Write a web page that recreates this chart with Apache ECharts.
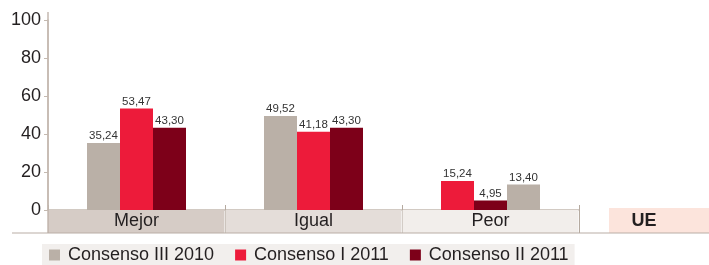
<!DOCTYPE html>
<html>
<head>
<meta charset="utf-8">
<script src="https://cdn.jsdelivr.net/npm/echarts@6/dist/echarts.min.js"></script>
<style>
  html, body { margin: 0; padding: 0; background: #fff; }
  #chart { width: 709px; height: 265px; }
</style>
</head>
<body>
<div id="chart"></div>
<script>
// datos
var categorias = ['Mejor', 'Igual', 'Peor'];
var consensoIII2010 = [35.24, 49.52, 13.40];
var consensoI2011 = [53.47, 41.18, 15.24];
var consensoII2011 = [43.30, 43.30, 4.95];
var yTicks = [0, 20, 40, 60, 80, 100];

var colores = {
  'Consenso III 2010': '#bab0a7',
  'Consenso I 2011': '#ed1b3a',
  'Consenso II 2011': '#7d0019'
};
var fondos = ['#d6ccc6', '#e4ddd9', '#f2eeeb'];

// Mejor e Igual en el eje 0, Peor en el eje 1 (otro orden de barras)
function parte(arr, desdePeor) {
  return arr.map(function (v, i) {
    return (i === 2) === desdePeor ? v : '-';
  });
}

var etiqueta = {
  show: true,
  position: 'top',
  distance: 1,
  fontSize: 11.5,
  fontFamily: 'Liberation Sans',
  color: '#333',
  formatter: function (p) { return p.value.toFixed(2).replace('.', ','); }
};

function serie(nombre, arr, eje) {
  return {
    name: nombre,
    type: 'bar',
    xAxisIndex: eje,
    barWidth: 33,
    barGap: 0,
    itemStyle: { color: colores[nombre] },
    label: etiqueta,
    data: parte(arr, eje === 1)
  };
}

var chart = echarts.init(document.getElementById('chart'));
chart.setOption({
  animation: false,
  textStyle: { fontFamily: 'Liberation Sans' },
  grid: { left: 48, right: 130, top: 20, bottom: 55 },
  legend: {
    data: ['Consenso III 2010', 'Consenso I 2011', 'Consenso II 2011'],
    left: 42,
    top: 244,
    backgroundColor: '#f2efed',
    padding: [2, 6, 2, 7],
    icon: 'rect',
    itemWidth: 11,
    itemHeight: 11,
    itemGap: 21,
    textStyle: { fontSize: 18, color: '#231f20', padding: [0, 0, 0, 3] }
  },
  xAxis: [{
    type: 'category',
    data: categorias,
    axisLine: { lineStyle: { color: '#c4b9b0', width: 1.5 } },
    axisTick: { show: true, length: 23, lineStyle: { color: '#b5aaa0' } },
    axisLabel: {
      margin: 0,
      interval: 0,
      formatter: function (v, i) { return '{c' + i + '|' + v + '}'; },
      rich: {
        c0: { width: 176, height: 23, lineHeight: 23, align: 'center', fontSize: 18, color: '#231f20', backgroundColor: fondos[0] },
        c1: { width: 176, height: 23, lineHeight: 23, align: 'center', fontSize: 18, color: '#231f20', backgroundColor: fondos[1] },
        c2: { width: 176, height: 23, lineHeight: 23, align: 'center', fontSize: 18, color: '#231f20', backgroundColor: fondos[2] }
      }
    }
  }, {
    type: 'category',
    data: categorias,
    position: 'bottom',
    axisLine: { show: false },
    axisTick: { show: true, inside: true, length: 5, lineStyle: { color: '#b5aaa0' } },
    axisLabel: { show: false }
  }],
  yAxis: {
    type: 'value',
    min: yTicks[0],
    max: yTicks[yTicks.length - 1],
    interval: 20,
    splitLine: { show: false },
    axisLine: { show: true, lineStyle: { color: '#c4b9b0', width: 1.5 } },
    axisTick: { show: true, length: 4, lineStyle: { color: '#c4b9b0' } },
    axisLabel: { fontSize: 18, color: '#231f20', margin: 7 }
  },
  graphic: [
    { type: 'line', shape: { x1: 48, y1: 12, x2: 48, y2: 233 }, style: { stroke: '#c4b9b0', lineWidth: 1.5 }, z: 1 },
    { type: 'line', shape: { x1: 12, y1: 233, x2: 709, y2: 233 }, style: { stroke: '#b9aea5', lineWidth: 1.2 }, z: 5 },
    { type: 'rect', shape: { x: 609, y: 208, width: 100, height: 25 }, style: { fill: '#fce4dc' }, z: 1 },
    { type: 'text', x: 644, y: 221, style: { text: 'UE', fontSize: 18, fontWeight: 'bold', fill: '#231f20', align: 'center', verticalAlign: 'middle', fontFamily: 'Liberation Sans' }, z: 2 }
  ],
  series: [
    serie('Consenso III 2010', consensoIII2010, 0),
    serie('Consenso I 2011', consensoI2011, 0),
    serie('Consenso II 2011', consensoII2011, 0),
    serie('Consenso I 2011', consensoI2011, 1),
    serie('Consenso II 2011', consensoII2011, 1),
    serie('Consenso III 2010', consensoIII2010, 1)
  ]
});
</script>
</body>
</html>
